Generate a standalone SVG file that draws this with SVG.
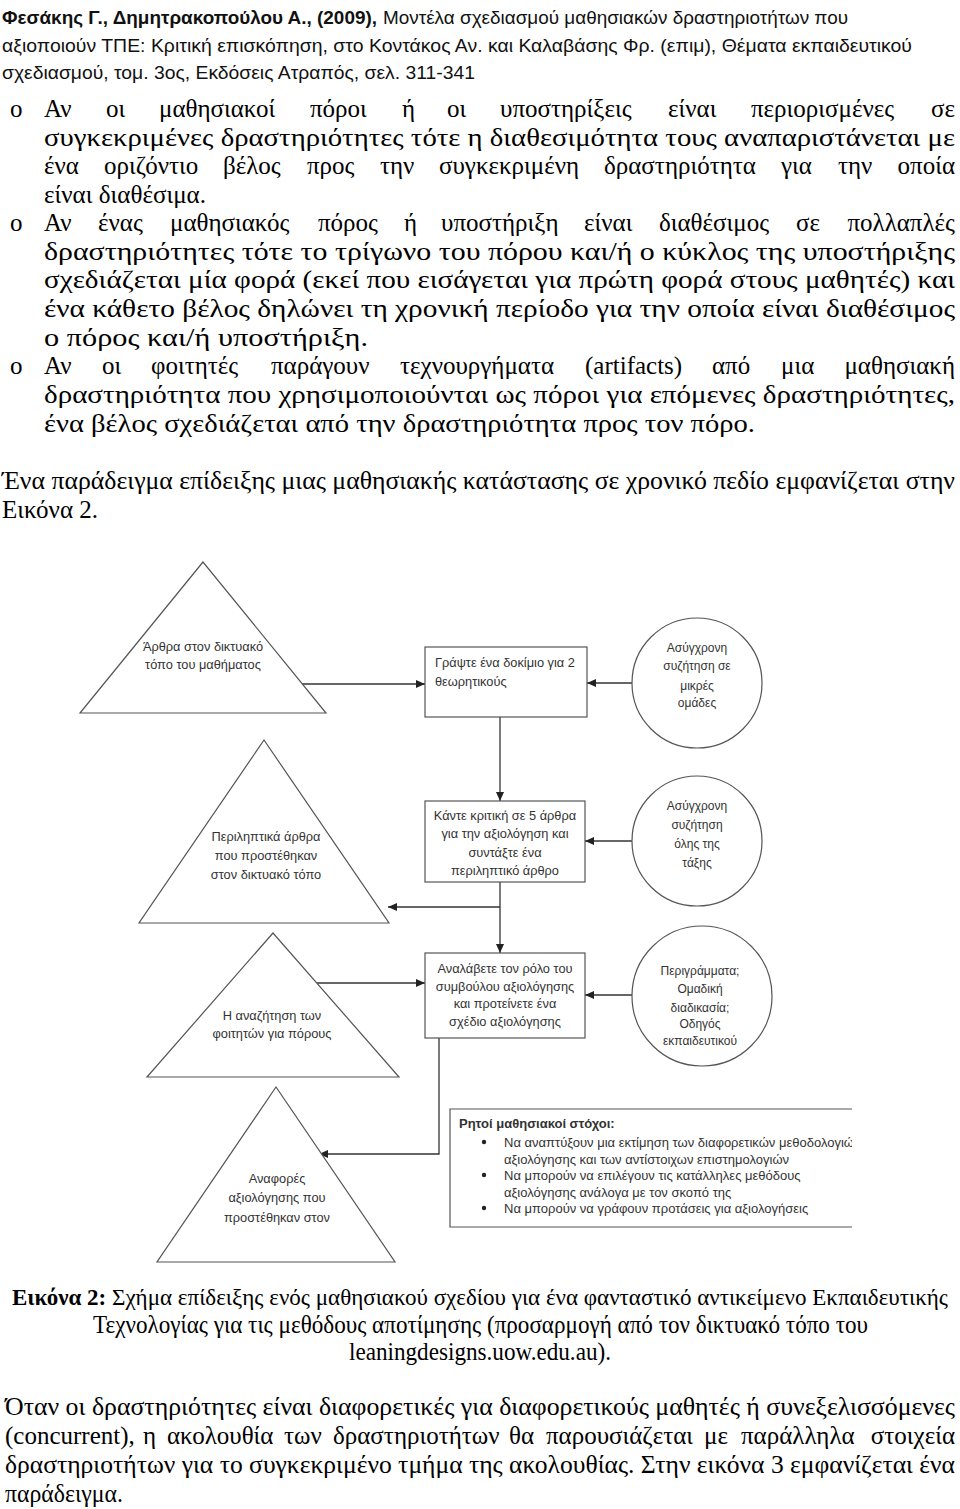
<svg xmlns="http://www.w3.org/2000/svg" width="960" height="1509" viewBox="0 0 960 1509">
<style>
.hd{font-family:"Liberation Sans",Arial,sans-serif;font-size:19px;fill:#111}
.bd{font-family:"Liberation Serif","Times New Roman",serif;font-size:25px;fill:#000}
.cp{font-family:"Liberation Serif","Times New Roman",serif;font-size:23px;fill:#000}
.dg{font-family:"Liberation Sans",Arial,sans-serif;font-size:12.8px;fill:#333}
.dgc{font-family:"Liberation Sans",Arial,sans-serif;font-size:12.8px;fill:#333;text-anchor:middle}
.dcc{font-family:"Liberation Sans",Arial,sans-serif;font-size:12px;fill:#333;text-anchor:middle}
.ob{font-family:"Liberation Sans",Arial,sans-serif;font-size:13px;fill:#333}
.shape{fill:#fff;stroke:#555;stroke-width:1.2}
.conn{fill:none;stroke:#333;stroke-width:1.3}
</style>
<defs>
<marker id="ah" markerWidth="10" markerHeight="8" refX="9" refY="4" orient="auto" markerUnits="userSpaceOnUse">
<path d="M0,0 L9,4 L0,8 z" fill="#222"/>
</marker>
<clipPath id="objclip"><rect x="440" y="1100" width="412" height="140"/></clipPath>
</defs>
<rect width="960" height="1509" fill="#fff"/>

<g id="header">
<text class="hd" x="2" y="24"><tspan font-weight="bold" textLength="375" lengthAdjust="spacingAndGlyphs">Φεσάκης Γ., Δημητρακοπούλου Α., (2009),</tspan><tspan x="383" textLength="465" lengthAdjust="spacingAndGlyphs">Μοντέλα σχεδιασμού μαθησιακών δραστηριοτήτων που</tspan></text>
<text class="hd" x="2" y="52" textLength="910" lengthAdjust="spacingAndGlyphs">αξιοποιούν ΤΠΕ: Κριτική επισκόπηση, στο Κοντάκος Αν. και Καλαβάσης Φρ. (επιμ), Θέματα εκπαιδευτικού</text>
<text class="hd" x="2" y="79" textLength="473" lengthAdjust="spacingAndGlyphs">σχεδιασμού, τομ. 3ος, Εκδόσεις Ατραπός, σελ. 311-341</text>
</g>

<g id="body">
<text class="bd" x="10" y="117">o</text>
<text class="bd" y="117"><tspan x="44">Αν</tspan><tspan x="106">οι</tspan><tspan x="159">μαθησιακοί</tspan><tspan x="310">πόροι</tspan><tspan x="402">ή</tspan><tspan x="447">οι</tspan><tspan x="500">υποστηρίξεις</tspan><tspan x="668">είναι</tspan><tspan x="751">περιορισμένες</tspan><tspan x="955" text-anchor="end">σε</tspan></text>
<text class="bd" x="44" y="146" textLength="911" lengthAdjust="spacingAndGlyphs">συγκεκριμένες δραστηριότητες τότε η διαθεσιμότητα τους αναπαριστάνεται με</text>
<text class="bd" y="174"><tspan x="44">ένα</tspan><tspan x="104">οριζόντιο</tspan><tspan x="223">βέλος</tspan><tspan x="307">προς</tspan><tspan x="380">την</tspan><tspan x="439">συγκεκριμένη</tspan><tspan x="604">δραστηριότητα</tspan><tspan x="781">για</tspan><tspan x="838">την</tspan><tspan x="955" text-anchor="end">οποία</tspan></text>
<text class="bd" x="44" y="203" textLength="162" lengthAdjust="spacingAndGlyphs">είναι διαθέσιμα.</text>
<text class="bd" x="10" y="231">o</text>
<text class="bd" y="231"><tspan x="44">Αν</tspan><tspan x="98">ένας</tspan><tspan x="170">μαθησιακός</tspan><tspan x="318">πόρος</tspan><tspan x="404">ή</tspan><tspan x="441">υποστήριξη</tspan><tspan x="584">είναι</tspan><tspan x="659">διαθέσιμος</tspan><tspan x="796">σε</tspan><tspan x="955" text-anchor="end">πολλαπλές</tspan></text>
<text class="bd" x="44" y="260" textLength="911" lengthAdjust="spacingAndGlyphs">δραστηριότητες τότε το τρίγωνο του πόρου και/ή ο κύκλος της υποστήριξης</text>
<text class="bd" x="44" y="288" textLength="911" lengthAdjust="spacingAndGlyphs">σχεδιάζεται μία φορά (εκεί που εισάγεται για πρώτη φορά στους μαθητές) και</text>
<text class="bd" x="44" y="317" textLength="911" lengthAdjust="spacingAndGlyphs">ένα κάθετο βέλος δηλώνει τη χρονική περίοδο για την οποία είναι διαθέσιμος</text>
<text class="bd" x="44" y="346" textLength="324" lengthAdjust="spacingAndGlyphs">ο πόρος και/ή υποστήριξη.</text>
<text class="bd" x="10" y="374">o</text>
<text class="bd" y="374"><tspan x="44">Αν</tspan><tspan x="102">οι</tspan><tspan x="151">φοιτητές</tspan><tspan x="271">παράγουν</tspan><tspan x="400">τεχνουργήματα</tspan><tspan x="585">(artifacts)</tspan><tspan x="712">από</tspan><tspan x="781">μια</tspan><tspan x="955" text-anchor="end">μαθησιακή</tspan></text>
<text class="bd" x="44" y="403" textLength="911" lengthAdjust="spacingAndGlyphs">δραστηριότητα που χρησιμοποιούνται ως πόροι για επόμενες δραστηριότητες,</text>
<text class="bd" x="44" y="432" textLength="711" lengthAdjust="spacingAndGlyphs">ένα βέλος σχεδιάζεται από την δραστηριότητα προς τον πόρο.</text>
<text class="bd" x="2" y="489" textLength="953" lengthAdjust="spacingAndGlyphs">Ένα παράδειγμα επίδειξης μιας μαθησιακής κατάστασης σε χρονικό πεδίο εμφανίζεται στην</text>
<text class="bd" x="2" y="518" textLength="96" lengthAdjust="spacingAndGlyphs">Εικόνα 2.</text>
</g>

<g id="connectors">
<path class="conn" d="M302,684 H425" marker-end="url(#ah)"/>
<path class="conn" d="M632,683 H587" marker-end="url(#ah)"/>
<path class="conn" d="M500,717 V801" marker-end="url(#ah)"/>
<path class="conn" d="M632,841 H585" marker-end="url(#ah)"/>
<path class="conn" d="M500,882 V953" marker-end="url(#ah)"/>
<path class="conn" d="M500,907 H388" marker-end="url(#ah)"/>
<path class="conn" d="M317,983 H425" marker-end="url(#ah)"/>
<path class="conn" d="M632,995 H585" marker-end="url(#ah)"/>
<path class="conn" d="M439,1038 V1154 H319" marker-end="url(#ah)"/>
</g>

<g id="tri1">
<polygon class="shape" points="203,562 80,713 326,713"/>
<text class="dgc" x="203" y="651">Άρθρα στον δικτυακό</text>
<text class="dgc" x="203" y="669">τόπο του μαθήματος</text>
</g>

<g id="tri2">
<polygon class="shape" points="264,740 139,923 389,923"/>
<text class="dgc" x="266" y="841">Περιληπτικά άρθρα</text>
<text class="dgc" x="266" y="860">που προστέθηκαν</text>
<text class="dgc" x="266" y="879">στον δικτυακό τόπο</text>
</g>

<g id="tri3">
<polygon class="shape" points="273,933 147,1077 399,1077"/>
<text class="dgc" x="272" y="1020">Η αναζήτηση των</text>
<text class="dgc" x="272" y="1038">φοιτητών για πόρους</text>
</g>

<g id="tri4">
<polygon class="shape" points="276,1087 157,1262 395,1262"/>
<text class="dgc" x="277" y="1183">Αναφορές</text>
<text class="dgc" x="277" y="1202">αξιολόγησης που</text>
<text class="dgc" x="277" y="1222">προστέθηκαν στον</text>
</g>

<g id="box1">
<rect class="shape" x="425" y="647" width="162" height="70"/>
<text class="dg" x="435" y="667">Γράψτε ένα δοκίμιο για 2</text>
<text class="dg" x="435" y="686">θεωρητικούς</text>
</g>

<g id="box2">
<rect class="shape" x="425" y="801" width="160" height="81"/>
<text class="dgc" x="505" y="820">Κάντε κριτική σε 5 άρθρα</text>
<text class="dgc" x="505" y="838">για την αξιολόγηση και</text>
<text class="dgc" x="505" y="857">συντάξτε ένα</text>
<text class="dgc" x="505" y="875">περιληπτικό άρθρο</text>
</g>

<g id="box3">
<rect class="shape" x="425" y="953" width="160" height="85"/>
<text class="dgc" x="505" y="973">Αναλάβετε τον ρόλο του</text>
<text class="dgc" x="505" y="991">συμβούλου αξιολόγησης</text>
<text class="dgc" x="505" y="1008">και προτείνετε ένα</text>
<text class="dgc" x="505" y="1026">σχέδιο αξιολόγησης</text>
</g>

<g id="circle1">
<circle class="shape" cx="697" cy="683" r="65"/>
<text class="dcc" x="697" y="652">Ασύγχρονη</text>
<text class="dcc" x="697" y="670">συζήτηση σε</text>
<text class="dcc" x="697" y="690">μικρές</text>
<text class="dcc" x="697" y="707">ομάδες</text>
</g>

<g id="circle2">
<circle class="shape" cx="697" cy="841" r="65"/>
<text class="dcc" x="697" y="810">Ασύγχρονη</text>
<text class="dcc" x="697" y="829">συζήτηση</text>
<text class="dcc" x="697" y="848">όλης της</text>
<text class="dcc" x="697" y="867">τάξης</text>
</g>

<g id="circle3">
<circle class="shape" cx="702" cy="996" r="70"/>
<text class="dcc" x="700" y="975">Περιγράμματα;</text>
<text class="dcc" x="700" y="993">Ομαδική</text>
<text class="dcc" x="700" y="1012">διαδικασία;</text>
<text class="dcc" x="700" y="1028">Οδηγός</text>
<text class="dcc" x="700" y="1045">εκπαιδευτικού</text>
</g>

<g id="objectives">
<path d="M852,1109 H450 V1227 H852" fill="none" stroke="#555" stroke-width="1.2"/>
<g clip-path="url(#objclip)">
<text class="ob" x="459" y="1128" font-weight="bold" fill="#111">Ρητοί μαθησιακοί στόχοι:</text>
<circle cx="484" cy="1142" r="2.2" fill="#222"/>
<text class="ob" x="504" y="1147">Να αναπτύξουν μια εκτίμηση των διαφορετικών μεθοδολογιών</text>
<text class="ob" x="504" y="1164">αξιολόγησης και των αντίστοιχων επιστημολογιών</text>
<circle cx="484" cy="1175" r="2.2" fill="#222"/>
<text class="ob" x="504" y="1180">Να μπορούν να επιλέγουν τις κατάλληλες μεθόδους</text>
<text class="ob" x="504" y="1197">αξιολόγησης  ανάλογα με τον σκοπό της</text>
<circle cx="484" cy="1208" r="2.2" fill="#222"/>
<text class="ob" x="504" y="1213">Να μπορούν να γράφουν προτάσεις για αξιολογήσεις</text>
</g>
</g>

<g id="caption">
<text class="cp" x="12" y="1305" textLength="936" lengthAdjust="spacingAndGlyphs"><tspan font-weight="bold">Εικόνα 2:</tspan> Σχήμα επίδειξης ενός μαθησιακού σχεδίου για ένα φανταστικό αντικείμενο Εκπαιδευτικής</text>
<text class="bd" x="93" y="1333" textLength="775" lengthAdjust="spacingAndGlyphs">Τεχνολογίας για τις μεθόδους αποτίμησης (προσαρμογή από τον δικτυακό τόπο του</text>
<text class="bd" x="349" y="1360" textLength="262" lengthAdjust="spacingAndGlyphs">leaningdesigns.uow.edu.au).</text>
</g>

<g id="closing">
<text class="bd" x="5" y="1415" textLength="950" lengthAdjust="spacingAndGlyphs">Όταν οι δραστηριότητες είναι διαφορετικές για διαφορετικούς μαθητές ή  συνεξελισσόμενες</text>
<text class="bd" y="1444"><tspan x="5">(concurrent),</tspan><tspan x="143">η</tspan><tspan x="167">ακολουθία</tspan><tspan x="284">των</tspan><tspan x="333">δραστηριοτήτων</tspan><tspan x="509">θα</tspan><tspan x="546">παρουσιάζεται</tspan><tspan x="704">με</tspan><tspan x="741">παράλληλα</tspan><tspan x="955" text-anchor="end">στοιχεία</tspan></text>
<text class="bd" x="5" y="1473" textLength="950" lengthAdjust="spacingAndGlyphs">δραστηριοτήτων για το συγκεκριμένο τμήμα της ακολουθίας. Στην εικόνα 3 εμφανίζεται ένα</text>
<text class="bd" x="5" y="1502" textLength="118" lengthAdjust="spacingAndGlyphs">παράδειγμα.</text>
</g>
</svg>
